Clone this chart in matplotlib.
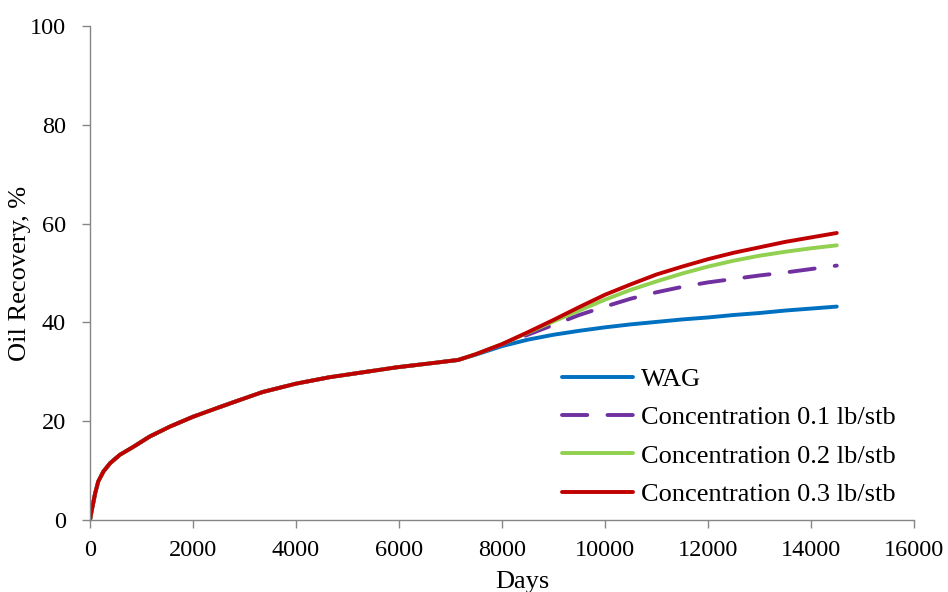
import numpy as np
import matplotlib
matplotlib.use("Agg")
import matplotlib.pyplot as plt
from matplotlib.ticker import MultipleLocator

plt.rcParams['font.family'] = ['Liberation Serif', 'DejaVu Serif']

# Shared recovery history before chemical injection (days, %)
days_common = [0, 25, 50, 100, 160, 260, 390, 580, 840, 1160, 1550, 2000, 2450, 2800,
               3350, 4000, 4650, 5300, 5950, 6600, 7150]
rec_common = [0, 1.5, 2.8, 5.4, 7.8, 9.8, 11.5, 13.2, 14.8, 16.9, 18.9, 20.9, 22.6, 23.9,
              25.9, 27.6, 28.9, 29.9, 30.9, 31.7, 32.4]

# Forecast once the cases diverge
days_tail = [7150, 7500, 8000, 8500, 9000, 9500, 10000, 10500, 11000, 11500, 12000,
             12500, 13000, 13500, 14000, 14500]
rec_wag = [32.4, 33.5, 35.2, 36.5, 37.5, 38.3, 39.0, 39.6, 40.1, 40.6, 41.0,
           41.5, 41.9, 42.4, 42.8, 43.2]
rec_c01 = [32.4, 33.6, 35.5, 37.5, 39.5, 41.5, 43.2, 44.8, 46.1, 47.2, 48.1,
           48.8, 49.5, 50.1, 50.8, 51.5]
rec_c02 = [32.4, 33.6, 35.6, 37.9, 40.2, 42.4, 44.6, 46.6, 48.3, 49.9, 51.3,
           52.5, 53.5, 54.3, 55.0, 55.6]
rec_c03 = [32.4, 33.6, 35.6, 38.0, 40.5, 43.1, 45.6, 47.7, 49.7, 51.3, 52.8,
           54.1, 55.2, 56.3, 57.2, 58.1]

labels = ["WAG", "Concentration 0.1 lb/stb", "Concentration 0.2 lb/stb",
          "Concentration 0.3 lb/stb"]
colors = ["#0070C0", "#7030A0", "#92D050", "#C00000"]

fig = plt.figure(figsize=(9.48, 5.92), dpi=100)
ax = fig.add_axes([90/948, 1-520/592, (914-90)/948, (520-26)/592])

x_all = days_common + days_tail[1:]
series = [rec_wag, rec_c01, rec_c02, rec_c03]
styles = ["-", (0, (6.5, 5.2)), "-", "-"]
for lab, col, tail, ls in zip(labels, colors, series, styles):
    y_all = rec_common + tail[1:]
    ax.plot(x_all, y_all, color=col, lw=2.8, ls=ls, label=lab,
            solid_capstyle='round', dash_capstyle='round',
            solid_joinstyle='round')

ax.set_xlim(0, 16000)
ax.set_ylim(0, 100)
ax.xaxis.set_major_locator(MultipleLocator(2000))
ax.yaxis.set_major_locator(MultipleLocator(20))
for s in ["top", "right"]:
    ax.spines[s].set_visible(False)
for s in ["left", "bottom"]:
    ax.spines[s].set_color("#868686")
    ax.spines[s].set_linewidth(1.0)
ax.tick_params(axis='both', colors="#868686", length=5.5, width=1.0,
               labelsize=17.5, labelcolor="black")
ax.tick_params(axis='x', pad=9)
ax.tick_params(axis='y', pad=12)
ax.set_xlabel("Days", fontsize=19, labelpad=0)
ax.xaxis.set_label_coords((522-90)/824, -(571-520)/494, transform=ax.transAxes)
ax.xaxis.label.set_va('top')
ax.set_ylabel("Oil Recovery, %", fontsize=19)
ax.yaxis.set_label_coords(-(90-20)/824, 0.5)
ax.yaxis.label.set_va('center')

leg = ax.legend(loc="lower left", bbox_to_anchor=((541-90)/824, -0.014),
                frameon=False, fontsize=19, handlelength=2.7,
                handletextpad=0.3, labelspacing=0.56, borderpad=0.3)

fig.savefig("out.png", dpi=100)
